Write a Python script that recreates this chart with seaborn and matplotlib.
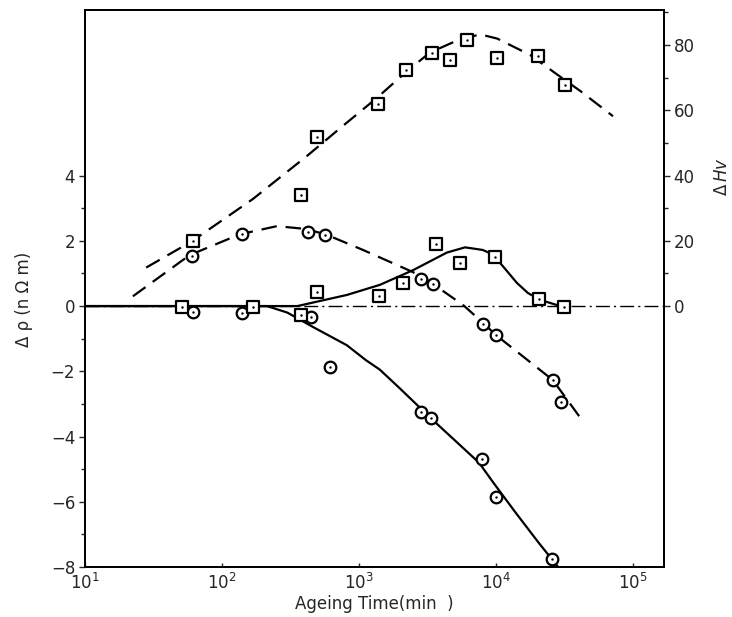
import numpy as np
import pandas as pd
import matplotlib
matplotlib.use("Agg")
import matplotlib.pyplot as plt
import seaborn as sns

# ---------------- data ----------------
# Delta Hv, dashed curve, square markers (right axis)
hv_dash_pts_t = [62, 380, 493, 1380, 2200, 3410, 4620, 6140, 10200, 20300, 31900]
hv_dash_pts_v = [20, 34, 51.7, 62, 72.4, 77.7, 75.5, 81.7, 75.9, 76.8, 67.8]
hv_dash_curve_t = [28, 60, 168, 417, 727, 1350, 2240, 3290, 5190, 7640, 10200, 17700, 27900, 41000, 71400]
hv_dash_curve_v = [11.8, 19.8, 32.8, 46, 54.5, 63.8, 72, 77.7, 81.4, 83.3, 82, 77, 71, 66, 58.2]

# Delta rho, dashed curve, circle markers (left axis)
rho_dash_pts_t = [60, 140, 425, 565, 2840, 3470, 8000, 10000, 26000, 30000]
rho_dash_pts_v = [1.53, 2.2, 2.27, 2.18, 0.83, 0.67, -0.55, -0.89, -2.27, -2.94]
rho_dash_curve_t = [22.4, 58, 135, 252, 417, 585, 1070, 2480, 3300, 5760, 7640, 10000, 26000, 43000]
rho_dash_curve_v = [0.3, 1.56, 2.2, 2.45, 2.36, 2.18, 1.72, 1.04, 0.74, 0.03, -0.43, -0.89, -2.27, -3.53]

# Delta Hv, solid curve, square markers (right axis)
hv_solid_pts_t = [51, 168, 380, 493, 1400, 2090, 3650, 5460, 9840, 20600, 31400]
hv_solid_pts_v = [-0.4, -0.3, -2.6, 4.3, 3.1, 7.1, 18.9, 13.3, 14.9, 2.2, -0.4]
hv_solid_curve_t = [10, 355, 815, 1420, 2480, 4380, 5940, 8000, 9500, 11600, 14200, 17100, 21000, 31000]
hv_solid_curve_v = [0, 0, 3.4, 6.5, 11, 16.4, 18, 17.2, 15.8, 11.5, 7.1, 4.0, 1.9, -0.3]

# Delta rho, solid curve, circle markers (left axis)
rho_solid_pts_t = [62, 140, 445, 615, 2840, 3350, 7900, 10000, 25700]
rho_solid_pts_v = [-0.18, -0.21, -0.33, -1.87, -3.25, -3.43, -4.7, -5.86, -7.74]
rho_solid_curve_t = [10, 213, 300, 461, 815, 1125, 1420, 1960, 3470, 7510, 9510, 14000, 20600, 28400]
rho_solid_curve_v = [0, 0, -0.2, -0.64, -1.2, -1.66, -1.95, -2.5, -3.5, -4.8, -5.4, -6.35, -7.27, -8.0]

left_ticks = [-8, -6, -4, -2, 0, 2, 4]
right_ticks = [0, 20, 40, 60, 80]
x_ticks = [1e1, 1e2, 1e3, 1e4, 1e5]

# ---------------- figure ----------------
sns.set_style("ticks")
plt.rcParams["font.family"] = ["DejaVu Sans"]

fig = plt.figure(figsize=(7.32, 6.17), dpi=100)
ax = fig.add_axes([0.116, 0.081, 0.791, 0.903])
ax2 = ax.twinx()

K = "black"
LW = 1.6

def curve(axis, t, v, dashed):
    df = pd.DataFrame({"t": t, "v": v})
    sns.lineplot(data=df, x="t", y="v", ax=axis, color=K, lw=LW, sort=False,
                 estimator=None, legend=False)
    line = axis.lines[-1]
    if dashed:
        line.set_dashes((7, 4))
    line.set_solid_capstyle("butt")
    line.set_solid_joinstyle("round")

def points(axis, t, v, marker):
    df = pd.DataFrame({"t": t, "v": v})
    sns.scatterplot(data=df, x="t", y="v", ax=axis, marker=marker, s=70,
                    facecolor="white", edgecolor=K, linewidth=1.6, zorder=5, legend=False)
    sns.scatterplot(data=df, x="t", y="v", ax=axis, marker="o", s=3,
                    color=K, edgecolor=K, linewidth=0, zorder=6, legend=False)

# zero reference (dash-dot)
ax.axhline(0, color=K, lw=1.0, dashes=(10, 3, 1.5, 3), zorder=1)

# left axis: Delta rho
curve(ax, rho_dash_curve_t, rho_dash_curve_v, True)
curve(ax, rho_solid_curve_t, rho_solid_curve_v, False)
points(ax, rho_dash_pts_t, rho_dash_pts_v, "o")
points(ax, rho_solid_pts_t, rho_solid_pts_v, "o")

# right axis: Delta Hv
curve(ax2, hv_dash_curve_t, hv_dash_curve_v, True)
curve(ax2, hv_solid_curve_t, hv_solid_curve_v, False)
points(ax2, hv_dash_pts_t, hv_dash_pts_v, "s")
points(ax2, hv_solid_pts_t, hv_solid_pts_v, "s")

ax.set_xscale("log")
ax.set_xlim(10, 1.68e5)
ax.set_ylim(-8, 9.08)
ax2.set_ylim(-80, 90.8)

ax.set_xticks(x_ticks)
ax.xaxis.set_minor_locator(matplotlib.ticker.NullLocator())
ax.set_yticks(left_ticks)
ax.set_yticks([-7, -5, -3, -1, 1, 3], minor=True)
ax2.set_yticks(right_ticks)
ax2.set_yticks([10, 30, 50, 70, 90], minor=True)

ax.tick_params(axis="x", which="major", direction="in", length=3, width=1, labelsize=12, pad=4)
ax.tick_params(axis="y", which="major", direction="out", length=4, width=1, labelsize=12, pad=3)
ax.tick_params(axis="y", which="minor", direction="out", length=3, width=1)
ax2.tick_params(axis="y", which="major", direction="out", length=4, width=1, labelsize=12, pad=3)
ax2.tick_params(axis="y", which="minor", direction="out", length=3, width=1)

for a in (ax, ax2):
    for s in a.spines.values():
        s.set_linewidth(1.3)
        s.set_color(K)

ax.set_xlabel("Ageing Time(min  )", fontsize=12, labelpad=2)
ax.set_ylabel("Δ ρ (n Ω m)", fontsize=12, labelpad=14)
ax2.set_ylabel(r"$\Delta\,\mathit{Hv}$", fontsize=12, labelpad=8, rotation=90)
ax2.yaxis.set_label_coords(1.085, 0.70)
ax.yaxis.set_label_coords(-0.09, 0.48)

fig.savefig("out.png", dpi=100)
